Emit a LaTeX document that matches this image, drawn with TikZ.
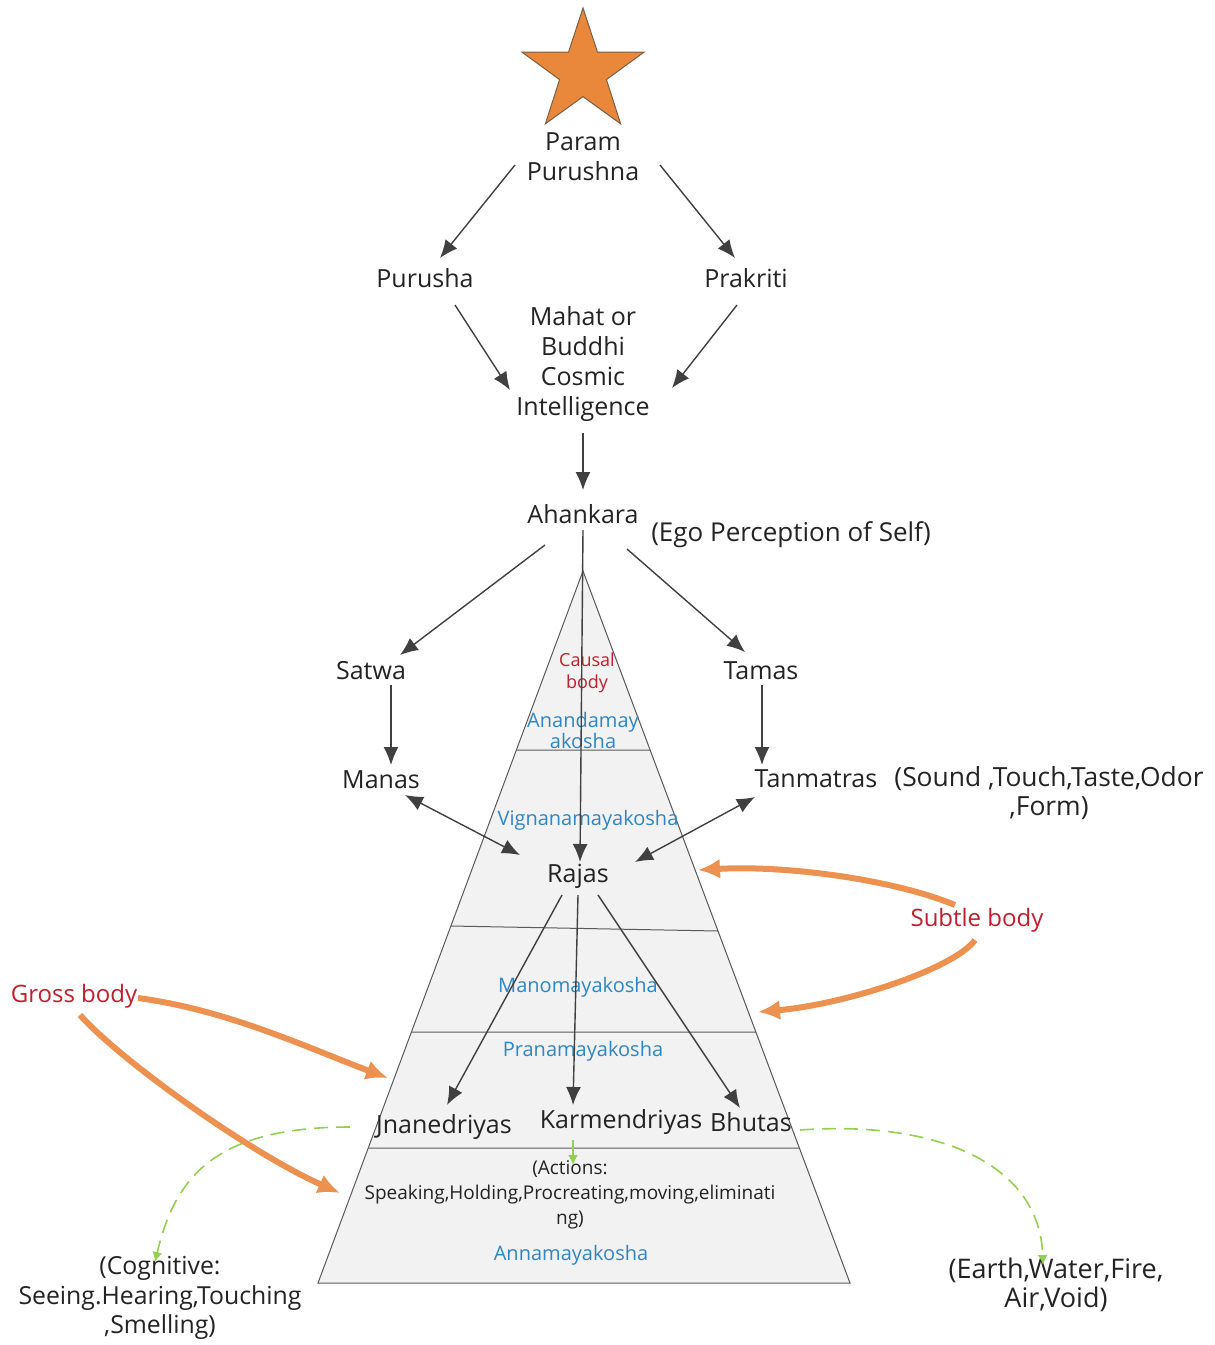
\documentclass[tikz,border=0pt]{standalone}
\usepackage{fontspec}
\setmainfont{Open Sans}
\usepackage{tikz}
\usetikzlibrary{shapes.geometric,arrows.meta,positioning}
\definecolor{ink}{RGB}{35,35,35}
\definecolor{edge}{RGB}{64,64,64}
\definecolor{pyrfill}{RGB}{242,242,242}
\definecolor{pyrline}{RGB}{90,90,90}
\definecolor{koshablue}{RGB}{47,134,196}
\definecolor{bodyred}{RGB}{192,30,45}
\definecolor{orangearrow}{RGB}{237,145,80}
\definecolor{starfill}{RGB}{233,136,58}
\definecolor{starline}{RGB}{120,95,70}
\definecolor{greenline}{RGB}{146,208,80}

\begin{document}
\begin{tikzpicture} [
    x = 0.5pt, y = -0.5pt,
    every node/.style = { inner sep = 0, align = center, text = ink },
    txt/.style = { font = \fontsize{12.5}{15}\selectfont },
    note/.style = { font = \fontsize{12.4}{14.75}\selectfont },
    small/.style = { font = \fontsize{9.5}{12.5}\selectfont },
    kosha/.style = { text = koshablue, font = \fontsize{10}{10.5}\selectfont },
    causal/.style = { text = bodyred, font = \fontsize{9}{11}\selectfont },
    body/.style = { text = bodyred, font = \fontsize{12}{14}\selectfont },
    arr/.style = { draw = edge, line width = 0.7pt, -{Latex[length = 9pt, width = 7.5pt]} },
    dbl/.style = { draw = edge, line width = 0.7pt, {Latex[length = 9pt, width = 7.5pt]}-{Latex[length = 9pt, width = 7.5pt]} },
    grn/.style = { draw = greenline, line width = 0.8pt, dash pattern = on 7pt off 4pt, -{Latex[length = 5pt, width = 5pt]} },
    orng/.style = { draw = orangearrow, line width = 3pt, -{Latex[length = 11pt, width = 10pt]} }
    ]
    \useasboundingbox (0,0) rectangle (1215,1345);

    \filldraw[fill = pyrfill, draw = pyrline, line width = 0.5pt] (583,571) -- (850,1283) -- (318,1283) -- cycle;
    \draw[pyrline, line width = 0.5pt] (516.4,750) -- (650.1,750) (450.9,926) -- (718,931)
        (411.4,1032) -- (755.9,1032) (368.3,1148) -- (799.4,1148);

    \node[star, star points = 5, star point ratio = 2.6, minimum size = 64pt, fill = starfill, draw = starline, line width = 0.5pt] (star) at (583,72) {};

    \node[txt] (param) at (583,157) {Param\\Purushna};
    \node[txt] (purusha) at (425,278) {Purusha};
    \node[txt] (prakriti) at (746,278) {Prakriti};
    \node[txt] (mahat) at (583,364) {Mahat or\\Buddhi\\Cosmic\\Intelligence};
    \node[txt] (ahankara) at (583,514) {Ahankara};
    \node[note, font = \fontsize{13}{15}\selectfont] (ego) at (791,535) {(Ego Perception of Self)};
    \node[txt] (satwa) at (371,671) {Satwa};
    \node[txt] (tamas) at (761,671) {Tamas};
    \node[txt] (manas) at (381,780) {Manas};
    \node[txt] (tanmatras) at (816,779) {Tanmatras};
    \node[note, font = \fontsize{13.2}{14.5}\selectfont] (sound) at (1049,793) {(Sound ,Touch,Taste,Odor\\,Form)};
    \node[txt] (rajas) at (578,876) {Rajas};
    \node[txt] (jnan) at (444,1127) {Jnanedriyas};
    \node[txt] (karm) at (621,1122) {Karmendriyas};
    \node[txt] (bhutas) at (751,1122) {Bhutas};
    \node[small] (actions) at (570,1195) {(Actions:\\Speaking,Holding,Procreating,moving,eliminati\\ng)};
    \node[note] (cogn) at (160,1298) {(Cognitive:\\Seeing.Hearing,Touching\\,Smelling)};
    \node[note, font = \fontsize{13.5}{14.75}\selectfont] (earth) at (1056,1285) {(Earth,Water,Fire,\\Air,Void)};
    \node[body] (gross) at (74,996) {Gross body};
    \node[body] (subtle) at (977,920) {Subtle body};
    \node[causal] (causal) at (587,673) {Causal\\body};
    \node[kosha] (ananda) at (583,730) {Anandamay\\akosha};
    \node[kosha] (vign) at (588,820) {Vignanamayakosha};
    \node[kosha] (mano) at (578,987) {Manomayakosha};
    \node[kosha] (prana) at (583,1051) {Pranamayakosha};
    \node[kosha] (anna) at (571,1255) {Annamayakosha};

    \draw[arr] ([shift = {(-68,8)}]param.center) -- ([shift = {(15,-20)}]purusha.center);
    \draw[arr] ([shift = {(77,8)}]param.center) -- ([shift = {(-11,-20)}]prakriti.center);
    \draw[arr] ([shift = {(30,27)}]purusha.center) -- ([shift = {(-73,26)}]mahat.center);
    \draw[arr] ([shift = {(-9,27)}]prakriti.center) -- ([shift = {(89,24)}]mahat.center);
    \draw[arr] ([shift = {(0,69)}]mahat.center) -- ([shift = {(0,-24)}]ahankara.center);
    \draw[arr] ([shift = {(-38,31)}]ahankara.center) -- ([shift = {(29,-16)}]satwa.center);
    \draw[arr] ([shift = {(44,35)}]ahankara.center) -- ([shift = {(-16,-19)}]tamas.center);
    \draw[arr] ([shift = {(0,16)}]ahankara.center) -- ([shift = {(2,-14)}]rajas.center);
    \draw[arr] ([shift = {(20,14)}]satwa.center) -- ([shift = {(10,-15)}]manas.center);
    \draw[arr] ([shift = {(1,14)}]tamas.center) -- ([shift = {(-54,-14)}]tanmatras.center);
    \draw[dbl] ([shift = {(24,15)}]manas.center) -- ([shift = {(-58,-21)}]rajas.center);
    \draw[dbl] ([shift = {(-61,18)}]tanmatras.center) -- ([shift = {(57,-14)}]rajas.center);
    \draw[arr] ([shift = {(-16,19)}]rajas.center) -- ([shift = {(3,-22)}]jnan.center);
    \draw[arr] ([shift = {(0,19)}]rajas.center) -- ([shift = {(-48,-17)}]karm.center);
    \draw[arr] ([shift = {(20,19)}]rajas.center) -- ([shift = {(-11,-14)}]bhutas.center);

    \draw[grn, solid] ([shift = {(-48,18)}]karm.center) -- ([shift = {(3,-30)}]actions.center);
    \draw[grn] ([shift = {(-94,0)}]jnan.center) .. controls +(-135,0) and +(20,-85) .. ([shift = {(-5,-36)}]cogn.center);
    \draw[grn] ([shift = {(49,8)}]bhutas.center) .. controls +(140,-10) and +(-3,-100) .. ([shift = {(-13,-20)}]earth.center);

    \draw[orng] ([shift = {(-22,-15)}]subtle.center) .. controls +(-60,-25) and +(90,-5) .. ([shift = {(120,-6)}]rajas.center);
    \draw[orng] ([shift = {(-2,20)}]subtle.center) .. controls +(-20,28) and +(90,-8) .. ([shift = {(180,25)}]mano.center);
    \draw[orng] ([shift = {(64,2)}]gross.center) .. controls +(90,12) and +(-80,-30) .. ([shift = {(-56,-49)}]jnan.center);
    \draw[orng] ([shift = {(6,19)}]gross.center) .. controls +(40,45) and +(-90,-40) .. ([shift = {(-230,-2)}]actions.center);
\end{tikzpicture}
\end{document}
